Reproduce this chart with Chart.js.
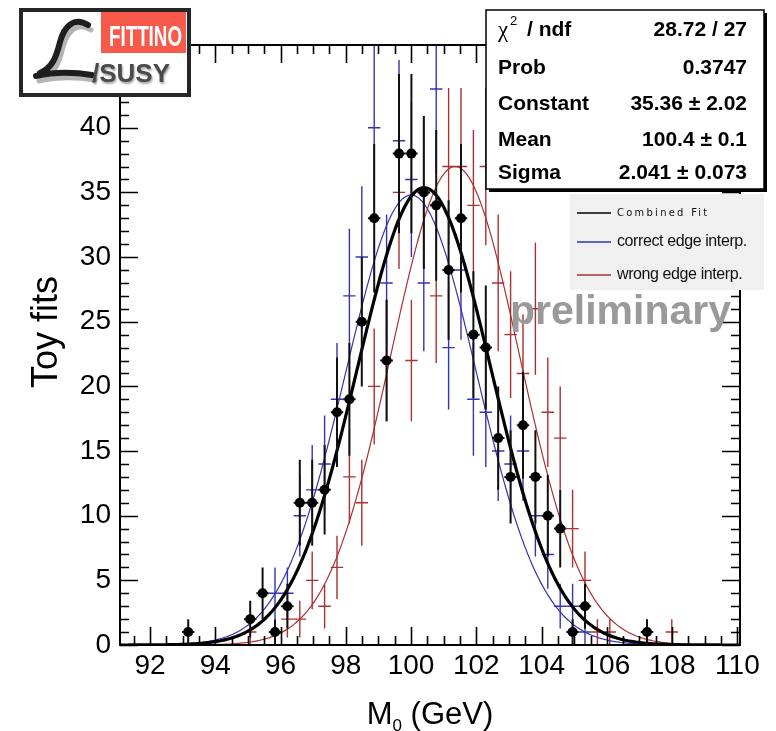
<!DOCTYPE html>
<html>
<head>
<meta charset="utf-8">
<title>Toy fits M0</title>
<script src="https://cdn.jsdelivr.net/npm/chart.js@4.4.1/dist/chart.umd.min.js"></script>
<style>
  html, body { margin: 0; padding: 0; background: #fff; }
  #wrap { position: relative; width: 776px; height: 731px; }
</style>
</head>
<body>
<div id="wrap"><canvas id="toyChart"></canvas></div>
<script>
// bin centres in GeV (bin width 0.38) and number of toy fits per bin
const combinedX = [93.17, 95.07, 95.45, 95.83, 96.21, 96.59, 96.97, 97.35, 97.73, 98.11,
  98.49, 98.87, 99.25, 99.63, 100.01, 100.39, 100.77, 101.15, 101.53, 101.91,
  102.29, 102.67, 103.05, 103.43, 103.81, 104.19, 104.57, 104.95, 105.33, 107.23];
const combinedN = [1, 2, 4, 1, 3, 11, 11, 12, 18, 19,
  25, 33, 22, 38, 38, 35, 34, 29, 33, 24,
  23, 16, 13, 17, 13, 10, 9, 1, 3, 1];

const correctX = [95.83, 96.21, 96.59, 96.97, 97.35, 97.73, 98.11, 98.49, 98.87, 99.25,
  99.63, 100.01, 100.39, 100.77, 101.15, 101.53, 101.91, 102.29, 102.67, 103.05,
  103.43, 103.81, 104.19, 104.57, 104.95, 105.33];
const correctN = [4, 4, 10, 12, 14, 19, 27, 30, 40, 28,
  39, 36, 28, 43, 23, 29, 19, 18, 15, 14,
  15, 10, 7, 3, 3, 1];

const wrongX = [95.07, 96.21, 96.59, 96.97, 97.35, 97.73, 98.11, 98.49, 98.87, 99.25,
  99.63, 100.01, 100.39, 100.77, 101.15, 101.53, 101.91, 102.29, 102.67, 103.05,
  103.43, 103.81, 104.19, 104.57, 104.95, 105.33, 105.71, 106.09, 107.99];
const wrongN = [1, 2, 2, 5, 3, 6, 13, 11, 20, 22,
  35, 22, 35, 27, 37, 37, 34, 37, 28, 24,
  21, 26, 18, 16, 9, 5, 1, 1, 1];

// gaussian parameters [constant, mean, sigma]
const combinedFit = [35.36, 100.4, 2.041];
const correctFit = [34.8, 100.0, 2.0];
const wrongFit = [37.0, 101.35, 1.97];

const xTickLabels = [92, 94, 96, 98, 100, 102, 104, 106, 108, 110];
const yTickLabels = [0, 5, 10, 15, 20, 25, 30, 35, 40];

const statsNames = ['Prob', 'Constant', 'Mean', 'Sigma'];
const statsValues = ['0.3747', '35.36 \u00b1 2.02', '100.4 \u00b1 0.1', '2.041 \u00b1 0.073'];
const chi2Text = '28.72 / 27';

const legendNames = ['Combined Fit', 'correct edge interp.', 'wrong edge interp.'];

const X_MIN = 91.08, X_MAX = 110.08, Y_MAX = 46.4;
const HALF_BIN = 0.19;
const FONT = '"Liberation Sans", Arial, Helvetica, sans-serif';
const BLUE = '#3434b0';
const RED = '#ab3030';

function gaus(p, x) {
  const t = (x - p[1]) / p[2];
  return p[0] * Math.exp(-0.5 * t * t);
}

function fitCurve(p) {
  const pts = [];
  for (let i = 0; i <= 475; i++) {
    const x = X_MIN + i * 0.04;
    pts.push({ x: x, y: gaus(p, x) });
  }
  return pts;
}

function points(xs, ns) {
  return xs.map((x, i) => ({ x: x, y: ns[i] }));
}

// histogram error bars: sqrt(N) vertically, bin half-width horizontally
const errorBars = {
  id: 'errorBars',
  beforeDatasetDraw(chart, args) {
    const ds = chart.data.datasets[args.index];
    if (!ds.errBars) return;
    const { ctx, chartArea, scales: { x, y } } = chart;
    ctx.save();
    ctx.beginPath();
    ctx.rect(chartArea.left, chartArea.top, chartArea.width, chartArea.height);
    ctx.clip();
    ctx.strokeStyle = ds.errColor;
    ctx.lineWidth = ds.errWidth;
    ds.data.forEach(p => {
      const e = Math.sqrt(p.y);
      const px = x.getPixelForValue(p.x);
      const py = y.getPixelForValue(p.y);
      ctx.beginPath();
      ctx.moveTo(px, y.getPixelForValue(p.y - e));
      ctx.lineTo(px, y.getPixelForValue(p.y + e));
      ctx.moveTo(x.getPixelForValue(p.x - HALF_BIN), py);
      ctx.lineTo(x.getPixelForValue(p.x + HALF_BIN), py);
      ctx.stroke();
    });
    ctx.restore();
  }
};

// frame with inward ticks on all four sides
const rootFrame = {
  id: 'rootFrame',
  afterDatasetsDraw(chart) {
    const { ctx, chartArea: a, scales: { x, y } } = chart;
    ctx.save();
    ctx.strokeStyle = '#000';
    ctx.lineWidth = 1.6;
    ctx.beginPath();
    for (let v = 91.5; v <= X_MAX; v += 0.5) {
      const len = v % 2 === 0 ? 18 : 9;
      const px = Math.round(x.getPixelForValue(v)) + 0.5;
      ctx.moveTo(px, a.bottom); ctx.lineTo(px, a.bottom - len);
      ctx.moveTo(px, a.top); ctx.lineTo(px, a.top + len);
    }
    for (let v = 0; v <= Y_MAX; v += 1) {
      const len = v % 5 === 0 ? 18 : 9;
      const py = Math.round(y.getPixelForValue(v)) + 0.5;
      ctx.moveTo(a.left, py); ctx.lineTo(a.left + len, py);
      ctx.moveTo(a.right, py); ctx.lineTo(a.right - len, py);
    }
    ctx.stroke();
    ctx.lineWidth = 2;
    ctx.strokeRect(a.left, a.top, a.width, a.height);
    ctx.restore();
  }
};

function drawLogo(ctx) {
  ctx.save();
  ctx.fillStyle = '#fff';
  ctx.fillRect(20, 9, 170, 87);
  ctx.strokeStyle = '#262626';
  ctx.lineWidth = 4;
  ctx.strokeRect(21, 10, 168, 85);

  ctx.fillStyle = '#f75a4b';
  ctx.fillRect(101, 12, 85, 41);
  ctx.fillStyle = '#fff';
  ctx.font = 'bold 30px "Liberation Sans Narrow", "Liberation Sans", Arial, sans-serif';
  ctx.textBaseline = 'alphabetic';
  const w = ctx.measureText('FITTINO').width;
  ctx.save();
  ctx.translate(109, 46);
  ctx.scale(73 / w, 1);
  ctx.fillText('FITTINO', 0, 0);
  ctx.restore();

  // script L, grey echo first then the dark stroke
  const scriptL = (dx, dy) => {
    ctx.beginPath();
    ctx.moveTo(88 + dx, 25 + dy);
    ctx.bezierCurveTo(74 + dx, 16 + dy, 64 + dx, 27 + dy, 60 + dx, 42 + dy);
    ctx.bezierCurveTo(56 + dx, 58 + dy, 52 + dx, 68 + dy, 40 + dx, 73 + dy);
    ctx.moveTo(36 + dx, 76 + dy);
    ctx.quadraticCurveTo(62 + dx, 70 + dy, 92 + dx, 75 + dy);
    ctx.stroke();
  };
  ctx.lineCap = 'round';
  ctx.strokeStyle = '#b4b4b4';
  ctx.lineWidth = 5;
  scriptL(3, 5);
  ctx.strokeStyle = '#1e1e1e';
  ctx.lineWidth = 6;
  scriptL(0, 0);

  ctx.fillStyle = '#4a4a4a';
  ctx.shadowColor = 'rgba(0,0,0,0.35)';
  ctx.shadowBlur = 2;
  ctx.shadowOffsetX = 1;
  ctx.shadowOffsetY = 2;
  ctx.font = 'bold 26px ' + FONT;
  ctx.fillText('/SUSY', 92, 82);
  ctx.restore();
}

function drawStats(ctx) {
  const L = 486, T = 10, R = 764, B = 189;
  ctx.save();
  ctx.fillStyle = '#000';
  ctx.fillRect(L + 3, T + 3, R - L, B - T);
  ctx.fillStyle = '#fff';
  ctx.fillRect(L, T, R - L, B - T);
  ctx.strokeStyle = '#000';
  ctx.lineWidth = 1.5;
  ctx.strokeRect(L, T, R - L, B - T);

  ctx.fillStyle = '#000';
  ctx.textBaseline = 'alphabetic';
  // chi2 / ndf row
  ctx.font = '23px "Liberation Serif", "Times New Roman", serif';
  ctx.textAlign = 'left';
  ctx.fillText('\u03c7', 498, 37);
  ctx.font = '13px ' + FONT;
  ctx.fillText('2', 510, 25);
  ctx.font = 'bold 21px ' + FONT;
  ctx.fillText('/ ndf', 527, 36);
  ctx.textAlign = 'right';
  ctx.fillText(chi2Text, 747, 36);

  const baselines = [74, 110, 146, 179];
  statsNames.forEach((name, i) => {
    ctx.textAlign = 'left';
    ctx.fillText(name, 498, baselines[i]);
    ctx.textAlign = 'right';
    ctx.fillText(statsValues[i], 747, baselines[i]);
  });
  ctx.restore();
}

function drawLegend(ctx) {
  ctx.save();
  ctx.fillStyle = '#f0f0f0';
  ctx.fillRect(570, 194, 194, 96);
  const rows = [213, 242, 275];
  const colors = ['#000', BLUE, RED];
  rows.forEach((ry, i) => {
    ctx.strokeStyle = colors[i];
    ctx.lineWidth = 1.6;
    ctx.beginPath();
    ctx.moveTo(577, ry);
    ctx.lineTo(611, ry);
    ctx.stroke();
  });
  ctx.fillStyle = '#111';
  ctx.textBaseline = 'middle';
  ctx.font = '11px "DejaVu Sans Condensed", "DejaVu Sans", sans-serif';
  ctx.letterSpacing = '2.3px';
  ctx.fillText(legendNames[0], 617, rows[0]);
  ctx.letterSpacing = '-0.4px';
  ctx.font = '16px ' + FONT;
  ctx.fillText(legendNames[1], 617, rows[1]);
  ctx.fillText(legendNames[2], 617, rows[2]);
  ctx.restore();
}

function drawTitles(ctx) {
  ctx.save();
  ctx.fillStyle = '#000';
  ctx.textBaseline = 'alphabetic';
  // x title with subscript
  ctx.font = '31px ' + FONT;
  const mW = ctx.measureText('M').width;
  const restW = ctx.measureText(' (GeV)').width;
  ctx.font = '17px ' + FONT;
  const subW = ctx.measureText('0').width;
  let xs = 430 - (mW + subW + restW) / 2;
  ctx.font = '31px ' + FONT;
  ctx.fillText('M', xs, 724);
  ctx.font = '17px ' + FONT;
  ctx.fillText('0', xs + mW, 731);
  ctx.font = '31px ' + FONT;
  ctx.fillText(' (GeV)', xs + mW + subW, 724);

  // y title
  ctx.translate(57, 332);
  ctx.rotate(-Math.PI / 2);
  ctx.textAlign = 'center';
  ctx.font = '36px ' + FONT;
  ctx.fillText('Toy fits', 0, 0);
  ctx.restore();
}

const overlays = {
  id: 'overlays',
  afterDraw(chart) {
    const ctx = chart.ctx;
    drawStats(ctx);
    drawLegend(ctx);
    ctx.save();
    ctx.fillStyle = '#9a9a9a';
    ctx.font = 'bold 41px ' + FONT;
    ctx.fillText('preliminary', 510, 324);
    ctx.restore();
    drawTitles(ctx);
    drawLogo(ctx);
  }
};

const ctx = document.getElementById('toyChart').getContext('2d');

const toyChart = new Chart(ctx, {
  type: 'scatter',
  data: {
    datasets: [
      {
        label: 'Combined',
        data: points(combinedX, combinedN),
        order: 0,
        pointRadius: 5,
        pointHoverRadius: 5,
        pointBackgroundColor: '#000',
        pointBorderWidth: 0,
        errBars: true,
        errColor: '#111',
        errWidth: 2
      },
      {
        label: 'Combined Fit',
        data: fitCurve(combinedFit),
        order: 1,
        showLine: true,
        pointRadius: 0,
        borderColor: '#000',
        borderWidth: 3.2
      },
      {
        label: 'wrong edge fit',
        data: fitCurve(wrongFit),
        order: 2,
        showLine: true,
        pointRadius: 0,
        borderColor: RED,
        borderWidth: 1.2
      },
      {
        label: 'correct edge fit',
        data: fitCurve(correctFit),
        order: 3,
        showLine: true,
        pointRadius: 0,
        borderColor: BLUE,
        borderWidth: 1.2
      },
      {
        label: 'wrong edge interp.',
        data: points(wrongX, wrongN),
        order: 4,
        pointRadius: 0,
        errBars: true,
        errColor: RED,
        errWidth: 1.4
      },
      {
        label: 'correct edge interp.',
        data: points(correctX, correctN),
        order: 5,
        pointRadius: 0,
        errBars: true,
        errColor: BLUE,
        errWidth: 1.4
      }
    ]
  },
  options: {
    responsive: true,
    maintainAspectRatio: false,
    animation: false,
    events: [],
    layout: { padding: { top: 45, right: 36, left: 0, bottom: 0 } },
    plugins: {
      legend: { display: false },
      tooltip: { enabled: false }
    },
    scales: {
      x: {
        type: 'linear',
        min: X_MIN,
        max: X_MAX,
        grid: { display: false, drawTicks: false },
        border: { display: false },
        ticks: {
          stepSize: 2,
          includeBounds: false,
          autoSkip: false,
          maxRotation: 0,
          padding: 4,
          color: '#000',
          font: { family: FONT, size: 28 },
          callback: v => xTickLabels.includes(v) ? String(v) : ''
        },
        afterFit(s) { s.height = 86; }
      },
      y: {
        type: 'linear',
        min: 0,
        max: Y_MAX,
        grid: { display: false, drawTicks: false },
        border: { display: false },
        ticks: {
          stepSize: 5,
          includeBounds: false,
          autoSkip: false,
          padding: 9,
          color: '#000',
          font: { family: FONT, size: 28 },
          callback: v => yTickLabels.includes(v) ? String(v) : ''
        },
        afterFit(s) { s.width = 120; }
      }
    }
  },
  plugins: [errorBars, rootFrame, overlays]
});
</script>
</body>
</html>
